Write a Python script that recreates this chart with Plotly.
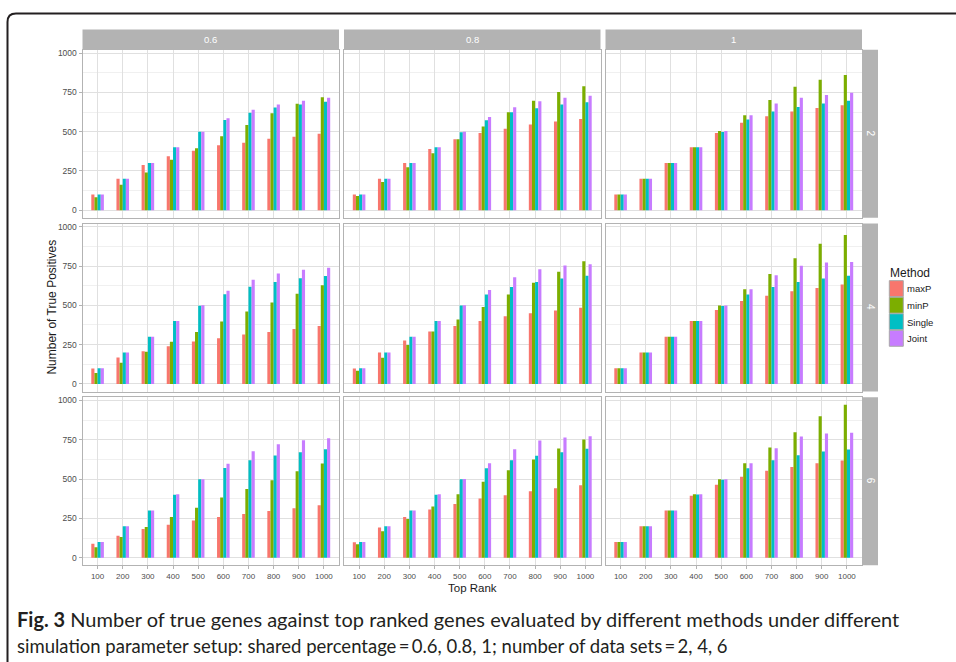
import plotly.graph_objects as go

# ---- data -------------------------------------------------------------
ranks = ["100", "200", "300", "400", "500", "600", "700", "800", "900", "1000"]
methods = ["maxP", "minP", "Single", "Joint"]
method_colors = ["#F8766D", "#7CAE00", "#00BFC4", "#C77CFF"]
shared_pct = ["0.6", "0.8", "1"]          # facet columns
n_sets = ["2", "4", "6"]                  # facet rows

# shared = 0.6, data sets = 2
maxP_s06_n2 = [100, 200, 287, 343, 379, 413, 430, 455, 468, 487]
minP_s06_n2 = [83, 162, 240, 321, 394, 470, 543, 617, 677, 719]
single_s06_n2 = [100, 200, 300, 400, 500, 574, 621, 653, 672, 691]
joint_s06_n2 = [100, 200, 300, 400, 500, 585, 640, 672, 696, 715]
# shared = 0.8, data sets = 2
maxP_s08_n2 = [100, 200, 300, 389, 451, 491, 519, 545, 564, 581]
minP_s08_n2 = [91, 179, 274, 362, 451, 532, 623, 696, 753, 789]
single_s08_n2 = [100, 200, 300, 400, 496, 572, 623, 649, 672, 687]
joint_s08_n2 = [100, 200, 300, 400, 500, 594, 655, 694, 715, 728]
# shared = 1, data sets = 2
maxP_s10_n2 = [100, 200, 300, 400, 491, 557, 598, 628, 651, 668]
minP_s10_n2 = [100, 200, 300, 400, 504, 604, 702, 785, 830, 860]
single_s10_n2 = [100, 200, 300, 400, 498, 577, 628, 657, 679, 696]
joint_s10_n2 = [100, 200, 300, 400, 504, 604, 679, 715, 734, 747]

# shared = 0.6, data sets = 4
maxP_s06_n4 = [98, 168, 208, 240, 270, 291, 314, 331, 350, 369]
minP_s06_n4 = [70, 134, 204, 268, 331, 397, 461, 518, 573, 628]
single_s06_n4 = [100, 200, 300, 400, 498, 571, 618, 648, 673, 686]
joint_s06_n4 = [100, 200, 300, 400, 500, 592, 662, 703, 726, 739]
# shared = 0.8, data sets = 4
maxP_s08_n4 = [98, 200, 276, 333, 369, 401, 431, 450, 467, 484]
minP_s08_n4 = [83, 166, 248, 333, 410, 490, 569, 643, 713, 781]
single_s08_n4 = [100, 200, 300, 400, 499, 569, 616, 648, 671, 688]
joint_s08_n4 = [100, 200, 300, 400, 500, 597, 679, 730, 754, 762]
# shared = 1, data sets = 4
maxP_s10_n4 = [100, 200, 300, 400, 471, 527, 561, 590, 611, 633]
minP_s10_n4 = [100, 200, 300, 400, 499, 603, 699, 800, 892, 947]
single_s10_n4 = [100, 200, 300, 400, 495, 569, 616, 648, 671, 688]
joint_s10_n4 = [100, 200, 300, 400, 499, 603, 692, 752, 773, 775]

# shared = 0.6, data sets = 6
maxP_s06_n6 = [89, 140, 183, 210, 236, 259, 278, 297, 314, 333]
minP_s06_n6 = [66, 132, 195, 259, 318, 382, 437, 493, 550, 599]
single_s06_n6 = [100, 200, 300, 400, 499, 571, 620, 650, 671, 690]
joint_s06_n6 = [100, 200, 300, 403, 499, 597, 677, 722, 747, 760]
# shared = 0.8, data sets = 6
maxP_s08_n6 = [98, 191, 259, 306, 342, 376, 397, 422, 442, 461]
minP_s08_n6 = [85, 168, 246, 325, 403, 482, 556, 624, 694, 752]
single_s08_n6 = [100, 200, 300, 400, 499, 569, 620, 648, 671, 692]
joint_s08_n6 = [100, 200, 300, 403, 500, 601, 690, 745, 764, 773]
# shared = 1, data sets = 6
maxP_s10_n6 = [100, 200, 300, 393, 463, 514, 552, 577, 601, 618]
minP_s10_n6 = [100, 200, 300, 403, 499, 601, 701, 798, 900, 972]
single_s10_n6 = [100, 200, 300, 401, 495, 569, 620, 652, 675, 688]
joint_s10_n6 = [100, 200, 300, 403, 499, 601, 696, 771, 790, 794]

panel_series = [
    [[maxP_s06_n2, minP_s06_n2, single_s06_n2, joint_s06_n2],
     [maxP_s08_n2, minP_s08_n2, single_s08_n2, joint_s08_n2],
     [maxP_s10_n2, minP_s10_n2, single_s10_n2, joint_s10_n2]],
    [[maxP_s06_n4, minP_s06_n4, single_s06_n4, joint_s06_n4],
     [maxP_s08_n4, minP_s08_n4, single_s08_n4, joint_s08_n4],
     [maxP_s10_n4, minP_s10_n4, single_s10_n4, joint_s10_n4]],
    [[maxP_s06_n6, minP_s06_n6, single_s06_n6, joint_s06_n6],
     [maxP_s08_n6, minP_s08_n6, single_s08_n6, joint_s08_n6],
     [maxP_s10_n6, minP_s10_n6, single_s10_n6, joint_s10_n6]],
]

# ---- page geometry (pixels) -------------------------------------------
W, H = 956, 662


def px(x):
    return x / W


def py(y):
    return 1 - y / H


col_x = [(82.5, 339.0), (344.0, 600.5), (605.5, 862.0)]
row_y = [(48.0, 216.5), (222.2, 390.7), (396.4, 565.0)]
strip_top = (27.5, 47.8)
strip_right = (862.8, 878.0)

SANS = "Liberation Sans, Arial, sans-serif"
CAPTION = "Lato, Liberation Sans, sans-serif"
GRID_MAJOR = "#E0E0E0"
GRID_MINOR = "#F0F0F0"
BORDER = "#B3B3B3"
TICK_TXT = "#4D4D4D"

ymax = max(max(s) for row in panel_series for panel in row for s in panel)
y_range = [-0.05 * ymax, ymax * 1.05]

fig = go.Figure()
layout = {}
for r in range(3):
    for c in range(3):
        k = r * 3 + c + 1
        xa = "x" if k == 1 else f"x{k}"
        ya = "y" if k == 1 else f"y{k}"
        for m, name in enumerate(methods):
            fig.add_trace(go.Bar(
                x=ranks, y=panel_series[r][c][m], name=name,
                marker=dict(color=method_colors[m], line=dict(width=0)),
                xaxis=xa, yaxis=ya, showlegend=False,
            ))
        bottom = r == 2
        left = c == 0
        layout["xaxis" if k == 1 else f"xaxis{k}"] = dict(
            domain=[px(col_x[c][0]), px(col_x[c][1])],
            anchor=ya, type="category", categoryorder="array",
            categoryarray=ranks, range=[-0.6, 9.6],
            showgrid=True, gridcolor=GRID_MAJOR, gridwidth=1,
            showline=True, mirror=True, linecolor=BORDER, linewidth=1,
            zeroline=False,
            ticks="outside" if bottom else "", ticklen=3, tickcolor=BORDER,
            showticklabels=bottom,
            tickfont=dict(family=SANS, size=8, color=TICK_TXT),
        )
        layout["yaxis" if k == 1 else f"yaxis{k}"] = dict(
            domain=[py(row_y[r][1]), py(row_y[r][0])],
            anchor=xa, range=y_range,
            tickvals=[0, 250, 500, 750, 1000],
            showgrid=True, gridcolor=GRID_MAJOR, gridwidth=1,
            minor=dict(tickvals=[125, 375, 625, 875], showgrid=True,
                       gridcolor=GRID_MINOR, gridwidth=1, ticks=""),
            showline=True, mirror=True, linecolor=BORDER, linewidth=1,
            zeroline=False,
            ticks="outside" if left else "", ticklen=3, tickcolor=BORDER,
            showticklabels=left,
            tickfont=dict(family=SANS, size=8.5, color=TICK_TXT),
        )

shapes = []
annotations = []

# facet strips along the top (shared percentage)
for c, lab in enumerate(shared_pct):
    shapes.append(dict(type="rect", xref="paper", yref="paper",
                       x0=px(col_x[c][0]), x1=px(col_x[c][1]),
                       y0=py(strip_top[1]), y1=py(strip_top[0]),
                       fillcolor=BORDER, line=dict(width=0), layer="below"))
    annotations.append(dict(xref="paper", yref="paper",
                            x=px((col_x[c][0] + col_x[c][1]) / 2),
                            y=py((strip_top[0] + strip_top[1]) / 2),
                            text=lab, showarrow=False,
                            font=dict(family=SANS, size=9.5, color="white"),
                            xanchor="center", yanchor="middle"))

# facet strips on the right (number of data sets)
for r, lab in enumerate(n_sets):
    shapes.append(dict(type="rect", xref="paper", yref="paper",
                       x0=px(strip_right[0]), x1=px(strip_right[1]),
                       y0=py(row_y[r][1]), y1=py(row_y[r][0]),
                       fillcolor=BORDER, line=dict(width=0), layer="below"))
    annotations.append(dict(xref="paper", yref="paper",
                            x=px((strip_right[0] + strip_right[1]) / 2),
                            y=py((row_y[r][0] + row_y[r][1]) / 2),
                            text=lab, showarrow=False, textangle=90,
                            font=dict(family=SANS, size=10, color="white"),
                            xanchor="center", yanchor="middle"))

# axis titles
annotations.append(dict(xref="paper", yref="paper",
                        x=px((col_x[0][0] + col_x[2][1]) / 2), y=py(587.5),
                        text="Top Rank", showarrow=False,
                        font=dict(family=SANS, size=11.5, color="#1A1A1A"),
                        xanchor="center", yanchor="middle"))
annotations.append(dict(xref="paper", yref="paper",
                        x=px(52), y=py((row_y[0][0] + row_y[2][1]) / 2),
                        text="Number of True Positives", showarrow=False,
                        textangle=-90,
                        font=dict(family=SANS, size=12, color="#1A1A1A"),
                        xanchor="center", yanchor="middle"))

# legend
annotations.append(dict(xref="paper", yref="paper", x=px(888), y=py(271.5),
                        text="Method", showarrow=False,
                        font=dict(family=SANS, size=12, color="#1A1A1A"),
                        xanchor="left", yanchor="middle"))
key_top, key_h = 279.5, 16.6
for m, name in enumerate(methods):
    y0 = key_top + m * key_h
    shapes.append(dict(type="rect", xref="paper", yref="paper",
                       x0=px(889.3), x1=px(903.3),
                       y0=py(y0 + key_h - 0.6), y1=py(y0),
                       fillcolor=method_colors[m],
                       line=dict(width=1, color="#A8A8A8")))
    annotations.append(dict(xref="paper", yref="paper", x=px(904.5), y=py(y0 + key_h / 2),
                            text=name, showarrow=False,
                            font=dict(family=SANS, size=9.5, color="#1A1A1A"),
                            xanchor="left", yanchor="middle"))

# caption
annotations.append(dict(xref="paper", yref="paper", x=px(15), y=py(619),
                        text="<b>Fig. 3</b> Number of true genes against top ranked genes "
                             "evaluated by different methods under different",
                        showarrow=False,
                        font=dict(family=CAPTION, size=20, color="#231F20"),
                        xanchor="left", yanchor="middle"))
annotations.append(dict(xref="paper", yref="paper", x=px(15), y=py(646),
                        text="simulation parameter setup: shared percentage\u2009=\u20090.6, 0.8, 1; "
                             "number of data sets\u2009=\u20092, 4, 6",
                        showarrow=False,
                        font=dict(family=CAPTION, size=18.5, color="#231F20"),
                        xanchor="left", yanchor="middle"))

# rounded frame around the figure
frame = (f"M {px(7.5)},{py(662)} L {px(7.5)},{py(20)} "
         f"Q {px(7.5)},{py(11.5)} {px(16)},{py(11.5)} L {px(956)},{py(11.5)}")
shapes.append(dict(type="path", xref="paper", yref="paper", path=frame,
                   line=dict(color="#231F20", width=2)))

fig.update_layout(
    width=W, height=H, margin=dict(l=0, r=0, t=0, b=0),
    paper_bgcolor="white", plot_bgcolor="white",
    barmode="group", bargap=0.5, bargroupgap=0,
    shapes=shapes, annotations=annotations, showlegend=False,
    **layout,
)

fig.write_html("out.html")
